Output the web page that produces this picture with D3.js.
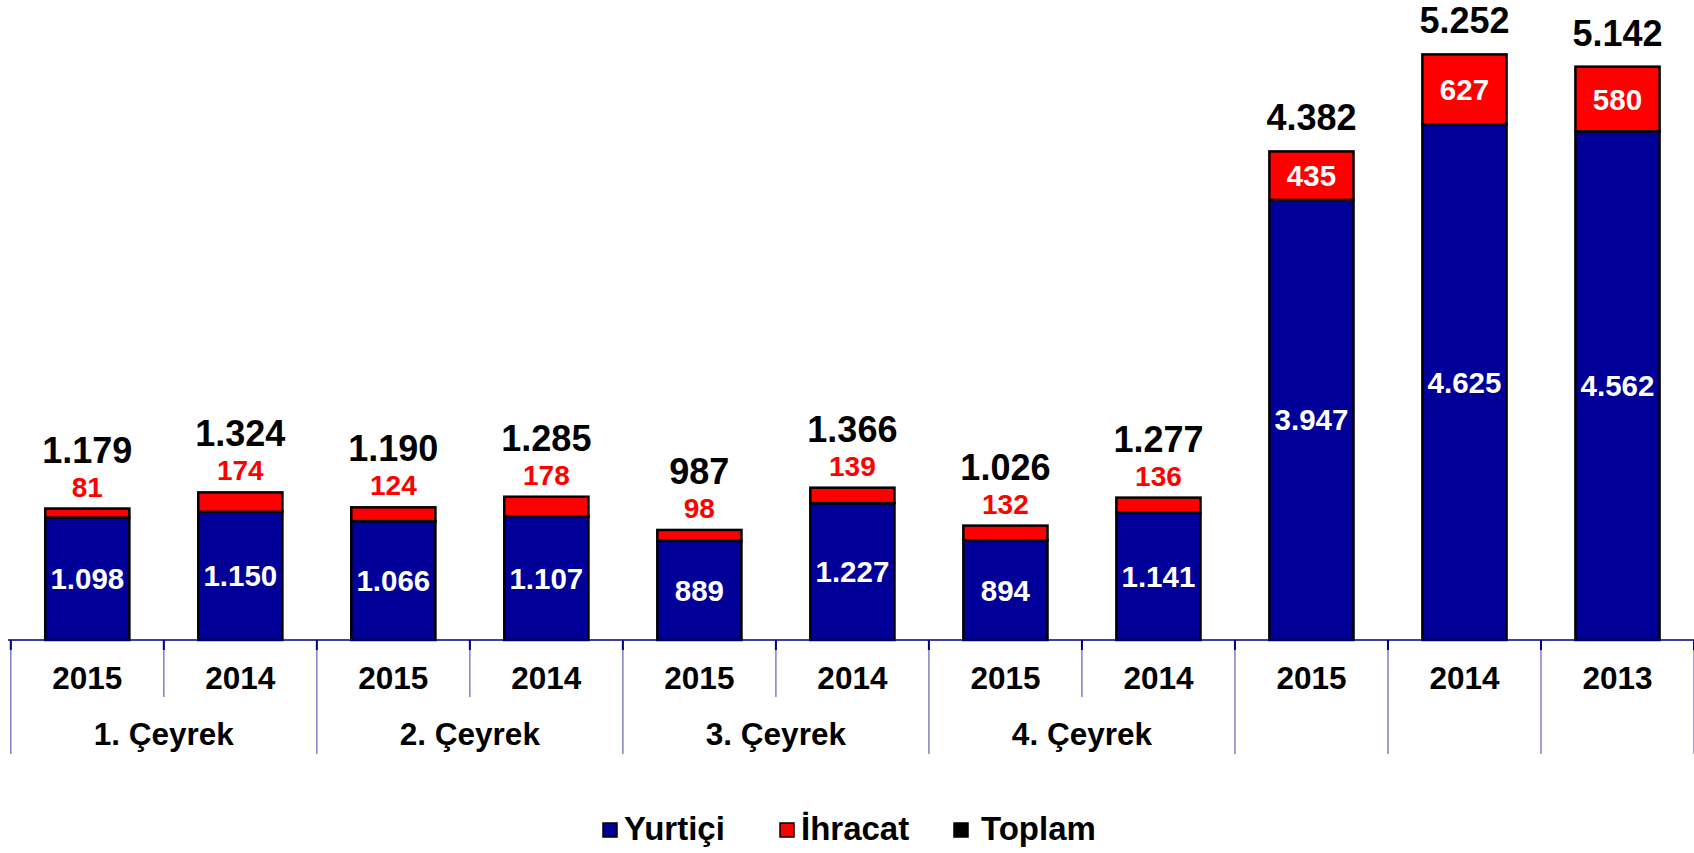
<!DOCTYPE html>
<html><head><meta charset="utf-8">
<script src="https://cdn.jsdelivr.net/npm/d3@7/dist/d3.min.js"></script>
<style>
html,body{margin:0;padding:0;background:#fff;}
svg{display:block;}
text{font-family:"Liberation Sans",Arial,sans-serif;font-weight:bold;}
</style></head>
<body><svg id="chart" width="1694" height="853"></svg>
<script>
const years = ["2015","2014","2015","2014","2015","2014","2015","2014","2015","2014","2013"];
const quarters = ["1. Çeyrek","2. Çeyrek","3. Çeyrek","4. Çeyrek"];
const yurtici = [1098,1150,1066,1107,889,1227,894,1141,3947,4625,4562];
const ihracat = [81,174,124,178,98,139,132,136,435,627,580];
const toplam = [1179,1324,1190,1285,987,1366,1026,1277,4382,5252,5142];
const seriesNames = ["Yurtiçi","İhracat","Toplam"];
const colors = ["#000099","#FF0000","#000000"];

const svg = d3.select("#chart");
const W = 1694;
const fmt = d3.formatLocale({decimal:",", thousands:".", grouping:[3], currency:["",""]}).format(",d");

const idx = d3.range(years.length);
const x = d3.scaleBand().domain(idx).range([10.8, W]).paddingInner(0.45).paddingOuter(0.225);
const y = d3.scaleLinear().domain([0, 5000]).range([640, 82.5]);
const step = x.step();
const x0 = 10.8;

const rows = idx.map(i => ({i, yurtici: yurtici[i], ihracat: ihracat[i]}));
const stacked = d3.stack().keys(["yurtici","ihracat"])(rows);

// dividers
const quarterBounds = new Set([0,2,4,6,8,9,10,11]);
svg.append("g").selectAll("line").data(d3.range(years.length + 1)).join("line")
  .attr("x1", k => x0 + k*step).attr("x2", k => x0 + k*step)
  .attr("y1", 640).attr("y2", k => quarterBounds.has(k) ? 754 : 697)
  .attr("stroke", "#7f7fc4").attr("stroke-width", 1.5);
svg.append("g").selectAll("line").data(d3.range(years.length + 1)).join("line")
  .attr("x1", k => x0 + k*step).attr("x2", k => x0 + k*step)
  .attr("y1", 640).attr("y2", 650)
  .attr("stroke", "#000080").attr("stroke-width", 2);

// bars
svg.append("g").selectAll("g").data(stacked).join("g")
  .attr("fill", (d,k) => colors[k])
  .selectAll("rect").data(d => d).join("rect")
  .attr("x", d => x(d.data.i)).attr("width", x.bandwidth())
  .attr("y", d => y(d[1])).attr("height", d => y(d[0]) - y(d[1]))
  .attr("stroke", "#000").attr("stroke-width", 2.5);

// axis baseline
svg.append("line").attr("x1", 8).attr("x2", W).attr("y1", 640).attr("y2", 640)
  .attr("stroke", "#000080").attr("stroke-width", 1.5);

// year labels
svg.append("g").selectAll("text").data(idx).join("text")
  .attr("x", i => x(i) + x.bandwidth()/2).attr("y", 689)
  .attr("text-anchor", "middle").attr("font-size", 31.5).attr("fill", "#000")
  .text(i => years[i]);

// quarter labels
svg.append("g").selectAll("text").data(quarters).join("text")
  .attr("x", (q,k) => x0 + (2*k + 1)*step).attr("y", 745)
  .attr("text-anchor", "middle").attr("font-size", 31.5).attr("fill", "#000")
  .text(q => q);

// value labels
const cx = i => x(i) + x.bandwidth()/2;
const barTop = i => y(yurtici[i] + ihracat[i]);
const inside = i => (y(0) - y(ihracat[i])) > 35;

svg.append("g").selectAll("text").data(idx).join("text")
  .attr("x", cx).attr("y", i => (y(0) + y(yurtici[i]))/2 + 10.5)
  .attr("text-anchor", "middle").attr("font-size", 29.5).attr("fill", "#fff")
  .text(i => fmt(yurtici[i]));

svg.append("g").selectAll("text").data(idx).join("text")
  .attr("x", cx)
  .attr("y", i => inside(i) ? (y(yurtici[i]) + barTop(i))/2 + 10.5 : barTop(i) - 12)
  .attr("text-anchor", "middle").attr("font-size", i => inside(i) ? 29.5 : 28)
  .attr("fill", i => inside(i) ? "#fff" : "#FF0000")
  .text(i => fmt(ihracat[i]));

svg.append("g").selectAll("text").data(idx).join("text")
  .attr("x", cx)
  .attr("y", i => inside(i) ? barTop(i) - 21 : barTop(i) - 46)
  .attr("text-anchor", "middle").attr("font-size", 36).attr("fill", "#000")
  .text(i => fmt(toplam[i]));

// legend
const legX = [603, 780, 954];
const lg = svg.append("g").selectAll("g").data(seriesNames).join("g")
  .attr("transform", (d,k) => `translate(${legX[k]},0)`);
lg.append("rect").attr("x", 0).attr("y", 823).attr("width", 14).attr("height", 14)
  .attr("fill", (d,k) => colors[k]).attr("stroke", "#000").attr("stroke-width", 1.5);
lg.append("text").attr("x", (d,k) => k === 2 ? 27 : 21).attr("y", 840)
  .attr("font-size", 33).attr("fill", "#000").text(d => d);
</script></body></html>
